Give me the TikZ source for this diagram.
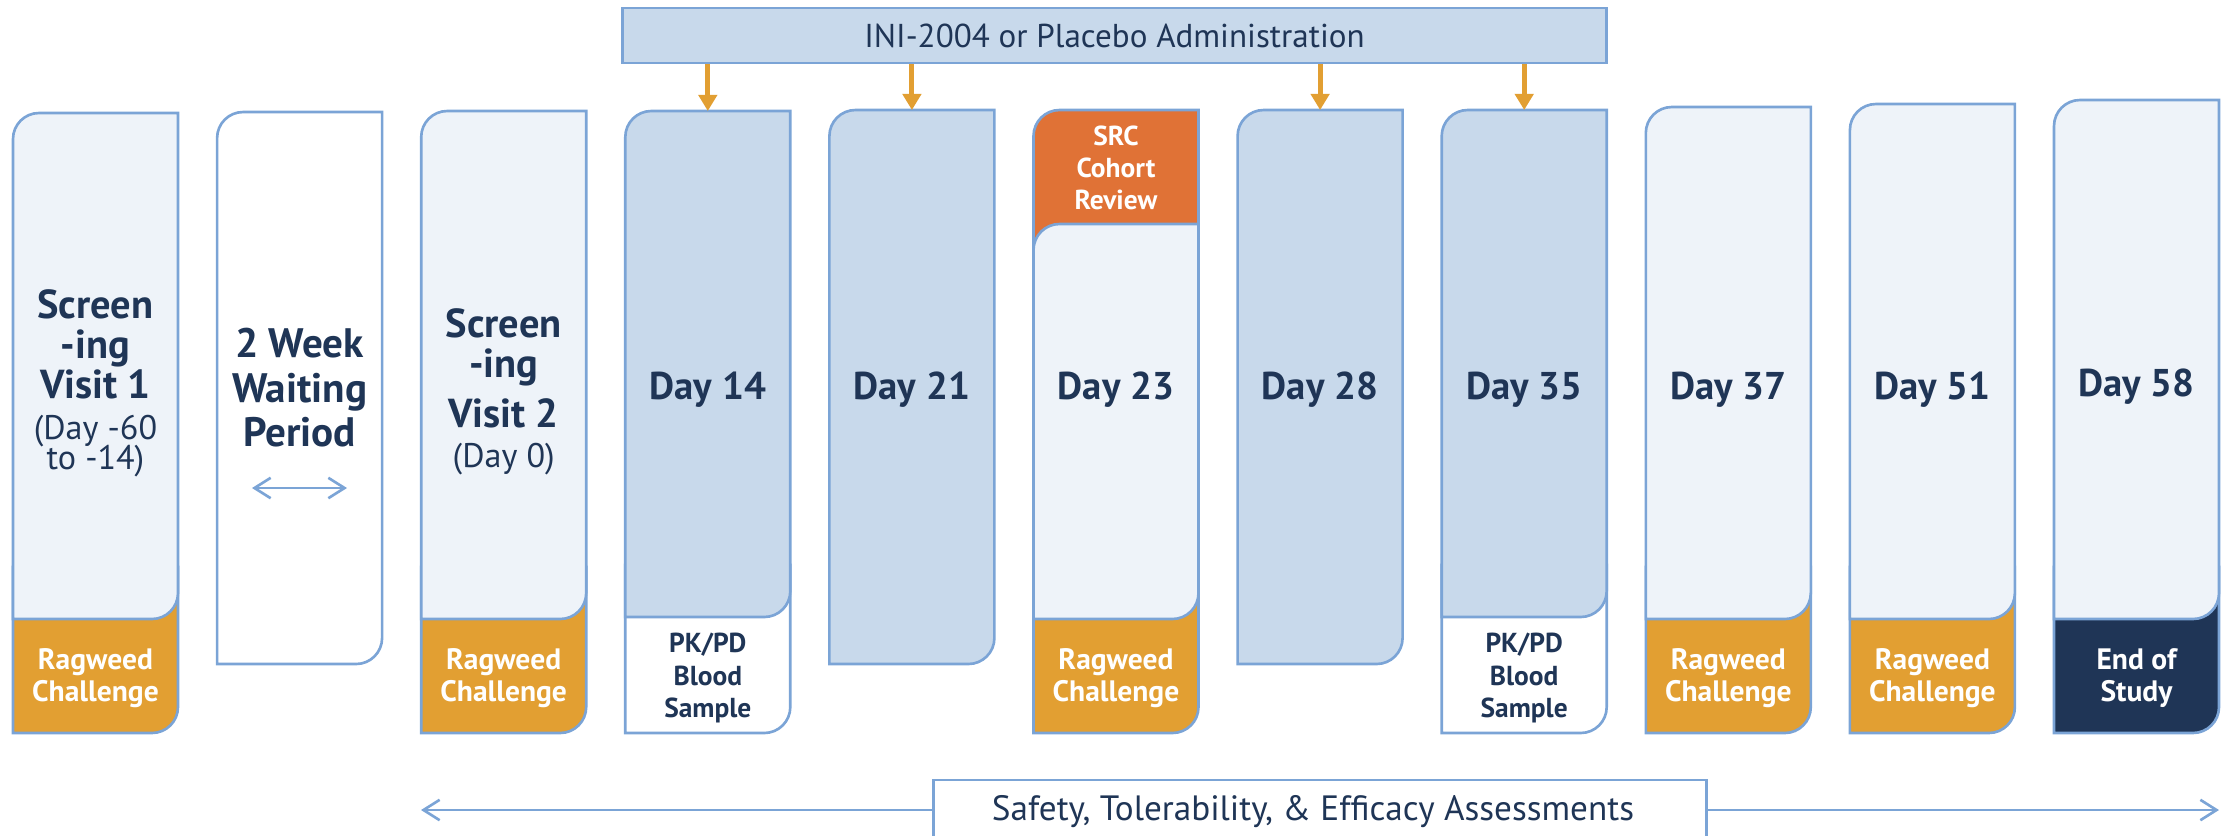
\documentclass[tikz,border=0pt]{standalone}
\usepackage{fontspec}
\setmainfont{PT Sans}
\usetikzlibrary{arrows.meta}

\definecolor{lineblue}{HTML}{7BA4D6}
\definecolor{pale}{HTML}{EEF3F9}
\definecolor{steel}{HTML}{C8D9EB}
\definecolor{gold}{HTML}{E29F32}
\definecolor{rust}{HTML}{E07236}
\definecolor{navy}{HTML}{1F3556}

% corner radius in drawing units and as a length
\newcommand\rr{26}
\newcommand\rad{0.26cm}

% slab with rounded top-left and bottom-right corners: L T R B style
\newcommand\slabround[5]{%
  \path[#5] (#1,#4) -- (#1,#2+2*\rr) [rounded corners=\rad] -- (#1,#2) -- (#1+2*\rr,#2)
    [sharp corners] -- (#3,#2) -- (#3,#4-2*\rr) [rounded corners=\rad] -- (#3,#4) -- (#3-2*\rr,#4)
    [sharp corners] -- cycle;}
% slab with a rounded bottom-right corner only
\newcommand\slabfoot[5]{%
  \path[#5] (#1,#2) -- (#3,#2) -- (#3,#4-2*\rr) [rounded corners=\rad] -- (#3,#4) -- (#3-2*\rr,#4)
    [sharp corners] -- (#1,#4) -- cycle;}
% slab with a rounded top-left corner only
\newcommand\slabhead[5]{%
  \path[#5] (#1,#4) -- (#1,#2+2*\rr) [rounded corners=\rad] -- (#1,#2) -- (#1+2*\rr,#2)
    [sharp corners] -- (#3,#2) -- (#3,#4) -- cycle;}

\tikzset{
  frame/.style={draw=lineblue, line width=0.75pt},
  paleslab/.style={frame, fill=pale},
  steelslab/.style={frame, fill=steel},
  whiteslab/.style={frame, fill=white},
  goldslab/.style={frame, fill=gold},
  rustslab/.style={frame, fill=rust},
  navyslab/.style={frame, fill=navy},
  daylabel/.style={text=navy, font=\fontsize{11}{13}\selectfont\bfseries, align=center, inner sep=0pt},
  boldline/.style={text=navy, font=\fontsize{11.5}{13}\selectfont\bfseries, anchor=base, inner sep=0pt},
  waitline/.style={boldline, font=\fontsize{11.7}{13}\selectfont\bfseries},
  plainline/.style={text=navy, font=\fontsize{9.7}{11}\selectfont, anchor=base, inner sep=0pt},
  tag/.style={text=white, font=\fontsize{8.4}{9.3}\selectfont\bfseries, align=center, inner sep=0pt},
  srctag/.style={tag, font=\fontsize{7.8}{9.2}\selectfont\bfseries},
  darktag/.style={tag, text=navy, font=\fontsize{7.8}{9.2}\selectfont\bfseries},
  banner/.style={draw=lineblue, line width=0.75pt, text=navy, inner sep=0pt},
  dose/.style={draw=gold, line width=1.4pt, -{Triangle[length=4.6pt,width=5.2pt]}},
  span/.style={draw=lineblue, line width=0.75pt, {Straight Barb[length=4.6pt,width=5.8pt]}-{Straight Barb[length=4.6pt,width=5.8pt]}}
}

\begin{document}
\begin{tikzpicture}[x=0.01cm, y=-0.01cm]
\useasboundingbox (0,0) rectangle (2233,835);

% --- visit columns ---
% Screening visit 1
\slabfoot{13}{567}{178}{733}{goldslab}
\slabround{13}{113}{178}{619}{paleslab}
% waiting period
\slabround{217.1}{112}{382.1}{664}{whiteslab}
% Screening visit 2
\slabfoot{421.2}{567}{586.2}{733}{goldslab}
\slabround{421.2}{111}{586.2}{619}{paleslab}
% Day 14
\slabfoot{625.3}{565}{790.3}{733}{whiteslab}
\slabround{625.3}{111}{790.3}{617}{steelslab}
% Day 21
\slabround{829.4}{110}{994.4}{664}{steelslab}
% Day 23
\slabhead{1033.5}{110}{1198.5}{276}{rustslab}
\slabfoot{1033.5}{567}{1198.5}{733}{goldslab}
\slabround{1033.5}{224}{1198.5}{619}{paleslab}
% Day 28
\slabround{1237.6}{110}{1402.6}{664}{steelslab}
% Day 35
\slabfoot{1441.7}{565}{1606.7}{733}{whiteslab}
\slabround{1441.7}{110}{1606.7}{617}{steelslab}
% Day 37
\slabfoot{1645.8}{567}{1810.8}{733}{goldslab}
\slabround{1645.8}{107}{1810.8}{619}{paleslab}
% Day 51
\slabfoot{1849.9}{567}{2014.9}{733}{goldslab}
\slabround{1849.9}{104}{2014.9}{619}{paleslab}
% Day 58
\slabfoot{2054}{567}{2219}{733}{navyslab}
\slabround{2054}{100}{2219}{619}{paleslab}

% --- column texts (line by line, on their baselines) ---
\node[boldline]  (s1a) at (95.5,318) {Screen};
\node[boldline]  (s1b) at (95.5,358) {-ing};
\node[boldline]  (s1c) at (95.5,398) {Visit 1};
\node[plainline] (s1d) at (95.5,439) {(Day -60};
\node[plainline] (s1e) at (95.5,469) {to -14)};

\node[waitline] (wa) at (299.6,357) {2 Week};
\node[waitline] (wb) at (299.6,402) {Waiting};
\node[waitline] (wc) at (299.6,446) {Period};

\node[boldline]  (s2a) at (503.7,337) {Screen};
\node[boldline]  (s2b) at (503.7,377) {-ing};
\node[boldline]  (s2c) at (503.7,427) {Visit 2};
\node[plainline] (s2d) at (503.7,467) {(Day 0)};

\node[daylabel] (d14) at (707.8,390) {Day 14};
\node[daylabel] (d21) at (911.9,390) {Day 21};
\node[daylabel] (d23) at (1116,390) {Day 23};
\node[daylabel] (d28) at (1320.1,390) {Day 28};
\node[daylabel] (d35) at (1524.2,390) {Day 35};
\node[daylabel] (d37) at (1728.3,390) {Day 37};
\node[daylabel] (d51) at (1932.4,390) {Day 51};
\node[daylabel] (d58) at (2136.5,387) {Day 58};

\node[tag] (rw1) at (95.5,678) {Ragweed\\Challenge};
\node[tag] (rw2) at (503.7,678) {Ragweed\\Challenge};
\node[darktag] (pk14) at (707.8,678) {PK/PD\\Blood\\Sample};
\node[srctag] (src) at (1116,168) {SRC\\Cohort\\Review};
\node[tag] (rw23) at (1116,678) {Ragweed\\Challenge};
\node[darktag] (pk35) at (1524.2,678) {PK/PD\\Blood\\Sample};
\node[tag] (rw37) at (1728.3,678) {Ragweed\\Challenge};
\node[tag] (rw51) at (1932.4,678) {Ragweed\\Challenge};
\node[tag] (eos) at (2136.5,678) {End of\\Study};

% two-week interval marker
\coordinate (wl) at (252,488);
\coordinate (wr) at (347,488);
\draw[span] (wl) -- (wr);

% --- dosing banner and arrows ---
\node[banner, fill=steel, font=\fontsize{9.4}{11}\selectfont, minimum width=9.83cm, minimum height=0.55cm]
  (bar) at (1114.5,35.5) {INI-2004 or Placebo Administration};
\coordinate (t14) at (707.8,111);
\coordinate (t21) at (911.9,110);
\coordinate (t28) at (1320.1,110);
\coordinate (t35) at (1524.2,110);
\foreach \t in {t14,t21,t28,t35}
  \draw[dose] (bar.south -| \t) -- (\t);

% --- assessment span ---
\coordinate (al) at (421,810);
\coordinate (ar) at (2219,810);
\draw[span] (al) -- (ar);
\node[banner, fill=white, minimum width=7.72cm, minimum height=0.64cm] (safety) at (1320,812) {};
\node[text=navy, font=\fontsize{10}{12}\selectfont, inner sep=0pt] (safetytext) at (1313,812)
  {Safety, Tolerability, \& Efficacy Assessments};
\end{tikzpicture}
\end{document}
